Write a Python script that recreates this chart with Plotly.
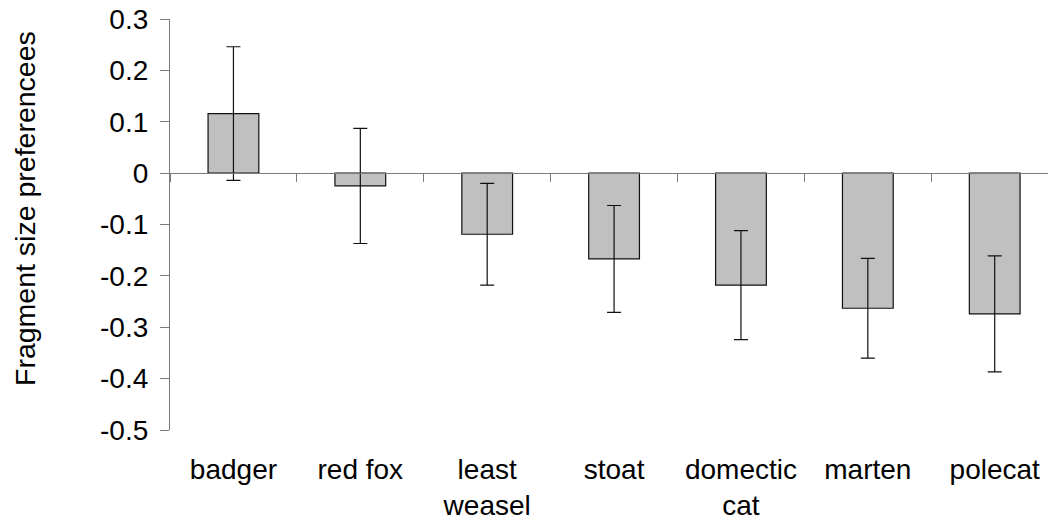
import plotly.graph_objects as go

categories = ["badger", "red fox", "least<br>weasel", "stoat", "domectic<br>cat", "marten", "polecat"]
values = [0.116, -0.025, -0.119, -0.167, -0.218, -0.263, -0.274]
errors = [0.130, 0.112, 0.099, 0.104, 0.106, 0.097, 0.113]
y_tickvals = [-0.5, -0.4, -0.3, -0.2, -0.1, 0, 0.1, 0.2, 0.3]
y_ticktext = ["-0.5", "-0.4", "-0.3", "-0.2", "-0.1", "0", "0.1", "0.2", "0.3"]
y_title = "Fragment size preferencees"

FONT = "Liberation Sans, Arial, sans-serif"
AXIS_GREY = "#7a7a7a"
x_range = [-0.5, 6.42]

fig = go.Figure()
fig.add_trace(go.Bar(
    x=categories, y=values,
    marker=dict(color="#c0c0c0", line=dict(color="#111111", width=1.2)),
    error_y=dict(type="data", array=errors, visible=True, color="#111111", thickness=1.2, width=7),
    width=0.4,
    showlegend=False,
))
# invisible trace carrying the zero-crossing category axis
fig.add_trace(go.Scatter(
    x=categories, y=values, xaxis="x2", mode="markers",
    marker=dict(opacity=0), hoverinfo="skip", showlegend=False,
))

fig.update_layout(
    width=1048, height=521,
    margin=dict(l=170, r=0, t=19, b=91),
    paper_bgcolor="white", plot_bgcolor="white",
    font=dict(family=FONT, size=28, color="black"),
    xaxis=dict(
        type="category", range=x_range, showline=False, showgrid=False, zeroline=False,
        ticks="", ticklabelstandoff=20, tickfont=dict(size=28),
    ),
    xaxis2=dict(
        type="category", overlaying="x", anchor="free", position=0.625,
        range=x_range, showline=True, linecolor=AXIS_GREY, linewidth=1.2,
        ticks="outside", ticklen=8, tickcolor=AXIS_GREY, tickwidth=1.2,
        tickson="boundaries", showticklabels=False, showgrid=False, zeroline=False,
    ),
    yaxis=dict(
        range=[-0.5, 0.3], tickvals=y_tickvals, ticktext=y_ticktext,
        showline=True, linecolor=AXIS_GREY, linewidth=1.2,
        ticks="outside", ticklen=9, tickcolor=AXIS_GREY, tickwidth=1.2,
        showgrid=False, zeroline=False, tickfont=dict(size=28), ticklabelstandoff=6,
    ),
    annotations=[dict(
        text=y_title, textangle=-90, xref="paper", yref="paper",
        x=-0.165, y=0.538, xanchor="center", yanchor="middle",
        showarrow=False, font=dict(size=28.5),
    )],
)

fig.write_html("out.html")
